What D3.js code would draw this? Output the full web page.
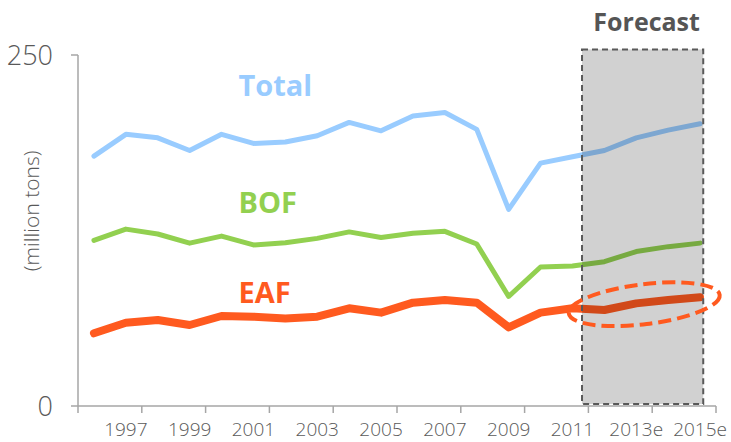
<!DOCTYPE html>
<html>
<head>
<meta charset="utf-8">
<script src="https://cdn.jsdelivr.net/npm/d3@7"></script>
<style>
  body { margin: 0; background: #fff; }
  text { font-family: "Open Sans", "Segoe UI", sans-serif; }
</style>
</head>
<body>
<div id="chartDiv"></div>
<script>
// years 1996 .. 2015e
const years = ["1996","1997","1998","1999","2000","2001","2002","2003","2004","2005",
               "2006","2007","2008","2009","2010","2011","2012e","2013e","2014e","2015e"];
const tickLabels = ["1997","1999","2001","2003","2005","2007","2009","2011","2013e","2015e"];

const total = [178, 193.5, 191, 182, 193.5, 187, 188, 192.5, 202, 196,
               206.5, 209, 197, 140, 173, 177.5, 182, 191, 196.5, 201];
const bof = [118, 126, 122.5, 116, 121, 114.7, 116.3, 119.4, 124, 120,
             123, 124.4, 115.4, 78, 99, 99.7, 102.8, 110, 113.5, 116];
const eaf = [51.8, 59.3, 61.3, 57.7, 64.1, 63.6, 62.4, 63.6, 69.6, 66.5,
             73.6, 75.5, 73.6, 56, 66.5, 69.6, 68.4, 73.1, 75.5, 77.4];

const seriesNames = ["Total", "BOF", "EAF"];
const seriesColors = ["#99CCFF", "#92D050", "#FF5A1F"];
const seriesWidths = [5, 5, 8];
const labelValues = [220.8, 137.5, 73.4]; // baseline of series labels, in million tons

const width = 731, height = 442;
const margin = {top: 55, right: 15, bottom: 36, left: 78};

const x = d3.scaleBand().domain(years).range([margin.left, width - margin.right]).padding(0);
const y = d3.scaleLinear().domain([0, 250]).range([height - margin.bottom, margin.top]);
const bw = x.bandwidth();
const cx = d => x(d) + bw / 2;

const svg = d3.create("svg")
    .attr("width", width)
    .attr("height", height)
    .attr("viewBox", [0, 0, width, height]);

const axisColor = "#A6A6A6";
const textColor = "#595959";

// y axis
svg.append("line")
    .attr("x1", x.range()[0]).attr("x2", x.range()[0])
    .attr("y1", y(250)).attr("y2", y(0))
    .attr("stroke", axisColor).attr("stroke-width", 1.5);
[0, 250].forEach(v => {
  svg.append("line")
      .attr("x1", x.range()[0] - 7).attr("x2", x.range()[0])
      .attr("y1", y(v)).attr("y2", y(v))
      .attr("stroke", axisColor).attr("stroke-width", 1.5);
  svg.append("text")
      .attr("x", 53).attr("y", y(v) + 10)
      .attr("text-anchor", "end")
      .attr("font-size", 27).attr("font-weight", 300)
      .attr("fill", textColor)
      .text(v);
});

svg.append("text")
    .attr("transform", `translate(39,${y(139)}) rotate(-90)`)
    .attr("text-anchor", "middle")
    .attr("font-size", 21).attr("font-weight", 300)
    .attr("fill", textColor)
    .text("(million tons)");

// x axis
svg.append("line")
    .attr("x1", x.range()[0]).attr("x2", x.range()[1])
    .attr("y1", y(0)).attr("y2", y(0))
    .attr("stroke", axisColor).attr("stroke-width", 1.5);
const tickPos = years.filter((d, i) => i % 2 === 0).map(d => x(d)).concat([x.range()[1]]);
svg.append("g").selectAll("line")
    .data(tickPos)
    .join("line")
    .attr("x1", d => d).attr("x2", d => d)
    .attr("y1", y(0)).attr("y2", y(0) + 7)
    .attr("stroke", axisColor).attr("stroke-width", 1.5);
svg.append("g").selectAll("text")
    .data(tickLabels)
    .join("text")
    .attr("x", d => cx(d))
    .attr("y", 436)
    .attr("text-anchor", "middle")
    .attr("font-size", 19).attr("font-weight", 300)
    .attr("fill", textColor)
    .text(d => d);

// lines
const line = d3.line()
    .x((d, i) => cx(years[i]))
    .y(d => y(d));

[total, bof, eaf].forEach((vals, k) => {
  svg.append("path")
      .attr("d", line(vals))
      .attr("fill", "none")
      .attr("stroke", seriesColors[k])
      .attr("stroke-width", seriesWidths[k])
      .attr("stroke-linejoin", "round")
      .attr("stroke-linecap", "round");
  svg.append("text")
      .attr("x", x("2001") + 1)
      .attr("y", y(labelValues[k]))
      .attr("font-size", 29).attr("font-weight", 700)
      .attr("fill", seriesColors[k])
      .text(seriesNames[k]);
});

// forecast box
const boxX0 = x("2011") + bw * 0.8;
const boxX1 = x("2015e") + bw * 0.6;
svg.append("rect")
    .attr("x", boxX0).attr("y", y(254))
    .attr("width", boxX1 - boxX0)
    .attr("height", y(1.4) - y(254))
    .attr("fill", "#000").attr("fill-opacity", 0.18)
    .attr("stroke", "#595959").attr("stroke-width", 2)
    .attr("stroke-dasharray", "6,4");

svg.append("text")
    .attr("x", (boxX0 + boxX1) / 2 + 4)
    .attr("y", 31)
    .attr("text-anchor", "middle")
    .attr("font-size", 25).attr("font-weight", 700)
    .attr("fill", "#555")
    .text("Forecast");

// ellipse around EAF forecast
svg.append("ellipse")
    .attr("transform", `translate(${cx("2013e") + 8},${y(72.5)}) rotate(-7)`)
    .attr("rx", 76).attr("ry", 20)
    .attr("fill", "none")
    .attr("stroke", "#FF5A1F").attr("stroke-width", 4)
    .attr("stroke-dasharray", "13,6");

document.getElementById("chartDiv").appendChild(svg.node());
</script>
</body>
</html>
